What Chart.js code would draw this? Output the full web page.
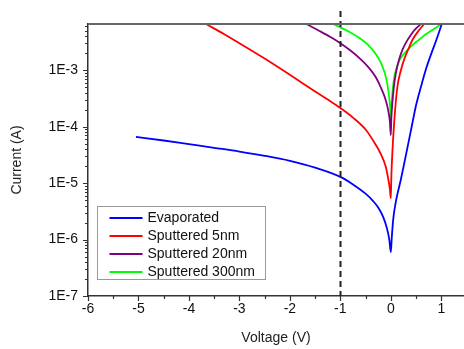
<!DOCTYPE html>
<html>
<head>
<meta charset="utf-8">
<script src="https://cdn.jsdelivr.net/npm/chart.js@4.4.1/dist/chart.umd.min.js"></script>
<style>
  html, body { margin: 0; padding: 0; background: #fff; }
  #c { display: block; }
</style>
</head>
<body>
<canvas id="c" width="464" height="349"></canvas>
<script>
// I-V sweeps, current in amperes (log axis), bias in volts
const seriesNames = ['Evaporated', 'Sputtered 5nm', 'Sputtered 20nm', 'Sputtered 300nm'];
const seriesColors = ['#0000ff', '#ff0000', '#800080', '#00ff00'];

const evapV = [-5.05, -4.5, -4, -3.5, -3, -2.5, -2, -1.5, -1, -0.75, -0.5, -0.35, -0.25, -0.15, -0.08, -0.03, 0, 0.02, 0.05, 0.1, 0.2, 0.3, 0.4, 0.5, 0.6, 0.7, 0.8, 0.9, 1.01];
const evapI = [6.6e-5, 5.69e-5, 4.9e-5, 4.22e-5, 3.63e-5, 3.05e-5, 2.48e-5, 1.88e-5, 1.29e-5, 9.5e-6, 6.5e-6, 4.8e-6, 3.7e-6, 2.5e-6, 1.62e-6, 1.0e-6, 6.0e-7, 1.12e-6, 2.4e-6, 4.7e-6, 1.17e-5, 3.16e-5, 8.7e-5, 2.4e-4, 5.2e-4, 1.07e-3, 1.95e-3, 3.4e-3, 6.6e-3];

const sp5V = [-3.66, -3.3, -3, -2.5, -2, -1.75, -1.5, -1.25, -1, -0.75, -0.5, -0.3, -0.2, -0.1, -0.05, -0.02, 0, 0.01, 0.03, 0.07, 0.13, 0.2, 0.26, 0.35, 0.43, 0.55, 0.66];
const sp5I = [6.6e-3, 4.34e-3, 3.01e-3, 1.61e-3, 8.3e-4, 5.9e-4, 4.2e-4, 3.02e-4, 2.14e-4, 1.45e-4, 8.9e-5, 4.8e-5, 3.3e-5, 1.95e-5, 1.17e-5, 8.0e-6, 5.4e-6, 1.26e-5, 3.4e-5, 1.32e-4, 5.1e-4, 1.0e-3, 1.51e-3, 2.4e-3, 3.47e-3, 5.0e-3, 6.6e-3];

const sp20V = [-1.67, -1.4, -1.2, -1, -0.8, -0.6, -0.45, -0.3, -0.2, -0.1, -0.05, -0.02, 0, 0.01, 0.03, 0.06, 0.1, 0.16, 0.23, 0.3, 0.4, 0.5, 0.6];
const sp20I = [6.6e-3, 4.9e-3, 3.89e-3, 3.02e-3, 2.24e-3, 1.58e-3, 1.15e-3, 7.6e-4, 5.0e-4, 2.95e-4, 1.9e-4, 1.26e-4, 7.1e-5, 1.41e-4, 2.57e-4, 5.0e-4, 8.9e-4, 1.51e-3, 2.29e-3, 3.09e-3, 4.27e-3, 5.5e-3, 6.6e-3];

const sp300V = [-1.14, -1, -0.8, -0.6, -0.45, -0.3, -0.2, -0.12, -0.07, -0.03, -0.01, 0, 0.01, 0.03, 0.06, 0.1, 0.15, 0.2, 0.3, 0.4, 0.5, 0.6, 0.7, 0.8, 0.9, 1.0];
const sp300I = [6.6e-3, 5.75e-3, 4.68e-3, 3.63e-3, 2.82e-3, 1.95e-3, 1.38e-3, 8.9e-4, 5.75e-4, 3.16e-4, 1.9e-4, 1.07e-4, 2.0e-4, 3.8e-4, 6.8e-4, 1.0e-3, 1.35e-3, 1.66e-3, 2.14e-3, 2.63e-3, 3.16e-3, 3.72e-3, 4.37e-3, 5.0e-3, 5.75e-3, 6.6e-3];

// axis ticks
const xTickValues = [-6, -5, -4, -3, -2, -1, 0, 1];
const xTickLabels = ['-6', '-5', '-4', '-3', '-2', '-1', '0', '1'];
const yTickValues = [1e-7, 1e-6, 1e-5, 1e-4, 1e-3];
const yTickLabels = ['1E-7', '1E-6', '1E-5', '1E-4', '1E-3'];
const markerVoltage = -1;

const X_MIN = -6, X_MAX = 1.45;
const Y_MIN = 1e-7, Y_MAX = 6.6e-3;
const FONT = '"Liberation Sans", Arial, sans-serif';

function pairs(xs, ys) { return xs.map((x, i) => ({ x: x, y: ys[i] })); }
const seriesData = [pairs(evapV, evapI), pairs(sp5V, sp5I), pairs(sp20V, sp20I), pairs(sp300V, sp300I)];

// minor + major tick marks drawn outward with two lengths
const tickMarks = {
  id: 'tickMarks',
  afterDraw(chart) {
    const ctx = chart.ctx, xs = chart.scales.x, ys = chart.scales.y;
    const area = chart.chartArea;
    ctx.save();
    ctx.strokeStyle = '#333';
    ctx.lineWidth = 1.2;
    ctx.beginPath();
    xs.ticks.forEach(t => {
      const px = Math.round(xs.getPixelForValue(t.value)) + 0.5;
      const len = t.major ? 5 : 3;
      ctx.moveTo(px, area.bottom);
      ctx.lineTo(px, area.bottom + len);
    });
    ys.ticks.forEach(t => {
      const py = Math.round(ys.getPixelForValue(t.value)) + 0.5;
      const len = t.major ? 5 : 3;
      ctx.moveTo(area.left, py);
      ctx.lineTo(area.left - len, py);
    });
    ctx.stroke();
    // frame line along the top
    ctx.strokeStyle = '#666';
    ctx.lineWidth = 2;
    ctx.beginPath();
    ctx.moveTo(area.left, area.top);
    ctx.lineTo(chart.width, area.top);
    ctx.stroke();
    ctx.restore();
  }
};

// dashed vertical marker at -1 V
const markerLine = {
  id: 'markerLine',
  afterDatasetsDraw(chart) {
    const ctx = chart.ctx, xs = chart.scales.x, area = chart.chartArea;
    const px = Math.round(xs.getPixelForValue(markerVoltage)) + 0.5;
    ctx.save();
    ctx.strokeStyle = '#222';
    ctx.lineWidth = 2;
    ctx.setLineDash([6, 4]);
    ctx.beginPath();
    ctx.moveTo(px, area.top - 13);
    ctx.lineTo(px, area.bottom);
    ctx.stroke();
    ctx.restore();
  }
};

// boxed legend in the lower left of the plot
const boxLegend = {
  id: 'boxLegend',
  afterDraw(chart) {
    const ctx = chart.ctx, area = chart.chartArea;
    const bx = area.left + 9.5, by = 206.5, bw = 168, bh = 73;
    ctx.save();
    ctx.fillStyle = '#fff';
    ctx.fillRect(bx, by, bw, bh);
    ctx.strokeStyle = '#999';
    ctx.lineWidth = 1;
    ctx.strokeRect(bx, by, bw, bh);
    ctx.font = '14px ' + FONT;
    ctx.textBaseline = 'middle';
    ctx.textAlign = 'left';
    chart.data.datasets.forEach((ds, i) => {
      const cy = by + 11.5 + i * 18;
      ctx.strokeStyle = ds.borderColor;
      ctx.lineWidth = 2;
      ctx.beginPath();
      ctx.moveTo(bx + 12, cy);
      ctx.lineTo(bx + 45, cy);
      ctx.stroke();
      ctx.fillStyle = '#111';
      ctx.fillText(ds.label, bx + 50, cy);
    });
    ctx.restore();
  }
};

new Chart(document.getElementById('c'), {
  type: 'line',
  data: {
    datasets: seriesNames.map((name, i) => ({
      label: name,
      data: seriesData[i],
      borderColor: seriesColors[i],
      backgroundColor: seriesColors[i],
      borderWidth: 1.8,
      pointRadius: 0,
      fill: false,
      cubicInterpolationMode: 'monotone'
    }))
  },
  options: {
    responsive: false,
    animation: false,
    devicePixelRatio: 1,
    layout: { padding: { top: 24, left: 0, right: 0, bottom: 0 } },
    plugins: { legend: { display: false }, tooltip: { enabled: false } },
    scales: {
      x: {
        type: 'linear',
        min: X_MIN,
        max: X_MAX,
        afterBuildTicks(scale) {
          const ticks = [];
          xTickValues.forEach((v, i) => {
            ticks.push({ value: v, major: true, label: xTickLabels[i] });
            if (v + 0.5 <= X_MAX) ticks.push({ value: v + 0.5, major: false });
          });
          scale.ticks = ticks;
        },
        afterFit(scale) { scale.height = 53; },
        grid: { drawOnChartArea: false, drawTicks: true, tickLength: 5, tickColor: 'rgba(0,0,0,0)' },
        border: { display: true, color: '#333', width: 1.5 },
        ticks: {
          autoSkip: false,
          maxRotation: 0,
          padding: 0,
          color: '#111',
          font: { family: FONT, size: 14 },
          callback(value) {
            const i = xTickValues.indexOf(value);
            return i >= 0 ? xTickLabels[i] : '';
          }
        },
        title: {
          display: true,
          text: 'Voltage (V)',
          color: '#222',
          font: { family: FONT, size: 14 },
          padding: { top: 0, bottom: 2 }
        }
      },
      y: {
        type: 'logarithmic',
        min: Y_MIN,
        max: Y_MAX,
        afterBuildTicks(scale) {
          const ticks = [];
          yTickValues.forEach(d => {
            for (let m = 1; m <= 9; m++) {
              const v = d * m;
              if (v <= Y_MAX) ticks.push({ value: v, major: m === 1 });
            }
          });
          scale.ticks = ticks;
        },
        afterFit(scale) { scale.width = 88; },
        grid: { drawOnChartArea: false, drawTicks: true, tickLength: 5, tickColor: 'rgba(0,0,0,0)' },
        border: { display: true, color: '#333', width: 1.5 },
        ticks: {
          autoSkip: false,
          padding: 5,
          color: '#111',
          font: { family: FONT, size: 14 },
          callback(value) {
            const i = yTickValues.findIndex(d => Math.abs(d - value) / d < 1e-6);
            return i >= 0 ? yTickLabels[i] : '';
          }
        },
        title: {
          display: true,
          text: 'Current (A)',
          color: '#222',
          font: { family: FONT, size: 14 },
          padding: { top: 9, bottom: 0 }
        }
      }
    }
  },
  plugins: [tickMarks, markerLine, boxLegend]
});
</script>
</body>
</html>
